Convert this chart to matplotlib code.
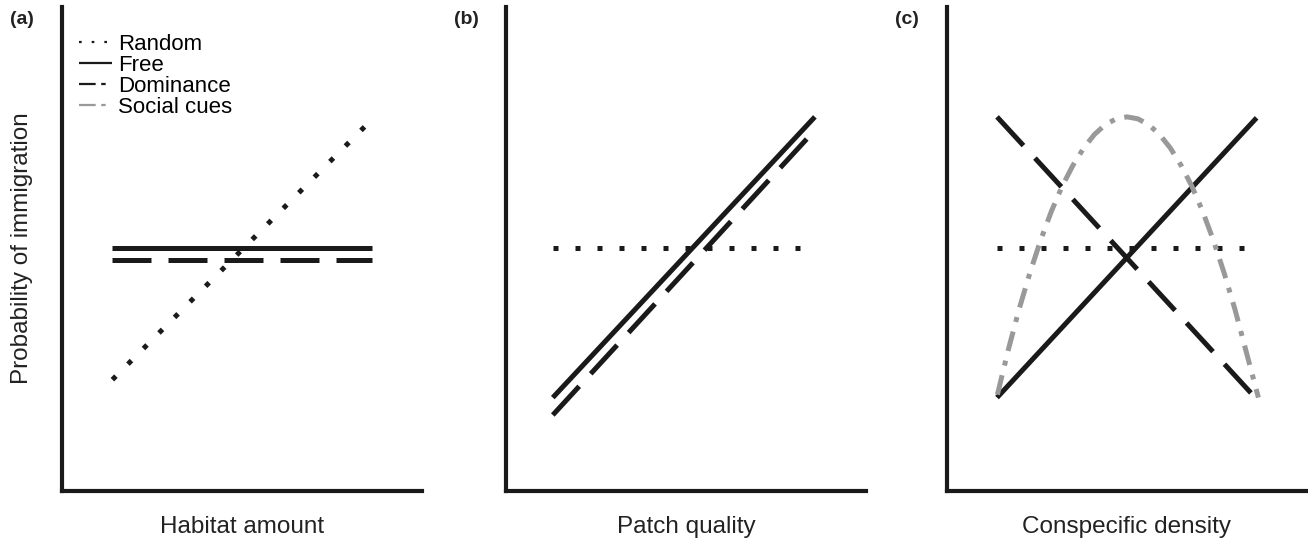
import matplotlib.pyplot as plt
from matplotlib.lines import Line2D

plt.rcParams['font.family'] = ['Liberation Sans', 'DejaVu Sans']

# schematic data, axes run 0..10 in both directions
x_ends = [1.4, 8.6]

# (a) habitat amount
a_random = [2.3, 7.67]
a_free = [5.02, 5.02]
a_dom = [4.77, 4.77]

# (b) patch quality
b_x = [1.3, 8.58]
b_random = [5.02, 5.02]
b_free = [1.93, 7.73]
b_dom_x = [1.3, 8.4]
b_dom = [1.57, 7.31]

# (c) conspecific density
c_x = [1.39, 8.6]
c_random_x = [1.39, 8.42]
c_random = [5.02, 5.02]
c_free = [1.93, 7.71]
c_dom_x = [1.39, 8.5]
c_dom = [7.73, 1.98]
c_social_x = [1.4, 1.7, 2.0, 2.3, 2.6, 2.9, 3.2, 3.5, 3.8, 4.1, 4.4, 4.7, 5.0,
              5.3, 5.6, 5.9, 6.2, 6.5, 6.8, 7.1, 7.4, 7.7, 8.0, 8.3, 8.65]
c_social = [1.99, 2.91, 3.75, 4.50, 5.18, 5.78, 6.30, 6.73, 7.09, 7.37, 7.57, 7.69, 7.73,
            7.69, 7.57, 7.37, 7.09, 6.73, 6.30, 5.78, 5.18, 4.50, 3.75, 2.91, 1.93]

xlabels = ['Habitat amount', 'Patch quality', 'Conspecific density']
panel_tags = ['(a)', '(b)', '(c)']

LW = 3.6
GREY = '#999999'
styles = {
    'Random': dict(color='#1a1a1a', lw=LW, dashes=(1, 3.4), dash_capstyle='butt'),
    'Free': dict(color='#1a1a1a', lw=LW, ls='-', solid_capstyle='butt'),
    'Dominance': dict(color='#1a1a1a', lw=LW, dashes=(7.8, 3.4), dash_capstyle='butt'),
    'Social cues': dict(color=GREY, lw=LW, dashes=(4, 2, 1, 2), dash_capstyle='butt'),
}

fig = plt.figure(figsize=(13.08, 5.45), dpi=100)
lefts = [62, 506, 947]
axes = []
for i, l in enumerate(lefts):
    ax = fig.add_axes([l / 1308, 54 / 545, 360 / 1308, 484 / 545])
    ax.set_xlim(0, 10)
    ax.set_ylim(0, 10)
    for s in ['top', 'right']:
        ax.spines[s].set_visible(False)
    for s in ['left', 'bottom']:
        ax.spines[s].set_linewidth(3.0)
        ax.spines[s].set_color('#1a1a1a')
    ax.set_xticks([])
    ax.set_yticks([])
    ax.set_xlabel(xlabels[i], fontsize=17.5, labelpad=18, color='#222222')
    fig.text((l - 40) / 1308, 1 - 20 / 545, panel_tags[i], fontsize=14,
             fontweight='bold', ha='center', va='center', color='#222222')
    axes.append(ax)

ax_a, ax_b, ax_c = axes

ax_a.plot(x_ends, a_random, **styles['Random'])
ax_a.plot(x_ends, a_free, **styles['Free'])
ax_a.plot(x_ends, a_dom, **styles['Dominance'])

ax_b.plot(b_x, b_random, **styles['Random'])
ax_b.plot(b_x, b_free, **styles['Free'])
ax_b.plot(b_dom_x, b_dom, **styles['Dominance'])

ax_c.plot(c_random_x, c_random, **styles['Random'])
ax_c.plot(c_x, c_free, **styles['Free'])
ax_c.plot(c_dom_x, c_dom, **styles['Dominance'])
ax_c.plot(c_social_x, c_social, **styles['Social cues'])

fig.text(22 / 1308, 1 - 248 / 545, 'Probability of immigration', rotation=90,
         fontsize=17.5, ha='center', va='center', color='#222222')

# legend with thinner handles
handles = []
for name, st in styles.items():
    st = dict(st)
    st['lw'] = 1.6
    if name == 'Random':
        st['dashes'] = (1.2, 4.5)
    elif name in ('Dominance', 'Social cues'):
        st['dashes'] = (7.5, 2.5, 2, 10)
    handles.append(Line2D([], [], **st))
ax_a.legend(handles, list(styles.keys()), loc='upper left',
            bbox_to_anchor=(0.048, 0.944), frameon=False, fontsize=16,
            handlelength=1.45, handletextpad=0.3, labelspacing=0.0,
            borderaxespad=0, borderpad=0)

fig.savefig('out.png', dpi=100)
